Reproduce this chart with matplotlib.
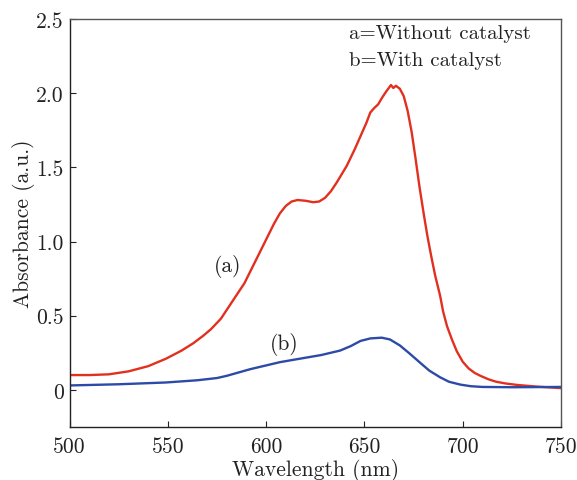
import matplotlib
matplotlib.use("Agg")
import matplotlib.pyplot as plt

plt.rcParams['font.family'] = 'serif'
plt.rcParams['font.serif'] = ['cmr10', 'DejaVu Serif']
plt.rcParams['mathtext.fontset'] = 'cm'
plt.rcParams['axes.unicode_minus'] = False

# Curve (a): without catalyst
wl_a = [500, 510, 520, 530, 540, 549, 557, 563, 568, 572, 577, 581, 585, 589, 592, 595, 598, 601,
        604, 607, 610, 613, 616, 620, 624, 627, 630, 633, 636, 641, 645, 648, 651, 653, 655, 657,
        659, 661, 663.5, 664.7, 666, 668, 670, 672, 674, 676, 678, 680, 682, 684, 686, 688.5, 690,
        692, 694.5, 697, 700, 703, 706, 709, 713, 717, 722, 728, 738, 750]
abs_a = [0.10, 0.10, 0.105, 0.125, 0.16, 0.21, 0.265, 0.315, 0.365, 0.41, 0.48, 0.56, 0.64, 0.72, 0.80,
         0.88, 0.96, 1.04, 1.12, 1.19, 1.24, 1.27, 1.28, 1.275, 1.265, 1.27, 1.295, 1.34, 1.40, 1.51,
         1.62, 1.71, 1.80, 1.87, 1.90, 1.925, 1.97, 2.01, 2.055, 2.035, 2.05, 2.03, 1.98, 1.88, 1.74,
         1.56, 1.37, 1.20, 1.04, 0.90, 0.77, 0.635, 0.53, 0.43, 0.34, 0.26, 0.19, 0.145, 0.115,
         0.095, 0.072, 0.055, 0.043, 0.033, 0.022, 0.012]

# Curve (b): with catalyst
wl_b = [500, 525, 549, 565, 575, 580, 584, 592, 600, 607, 617, 628, 637.6, 643, 648, 653, 658.8,
        663, 668, 673, 678, 683, 688.5, 693, 698.7, 704, 710, 725, 750]
abs_b = [0.03, 0.038, 0.05, 0.065, 0.08, 0.095, 0.11, 0.14, 0.165, 0.187, 0.21, 0.235, 0.265, 0.295,
         0.33, 0.347, 0.352, 0.34, 0.30, 0.245, 0.187, 0.13, 0.085, 0.055, 0.036, 0.025, 0.02,
         0.018, 0.02]

xticks = [500, 550, 600, 650, 700, 750]
yticks = [0, 0.5, 1.0, 1.5, 2.0, 2.5]
ytick_labels = ['0', '0.5', '1.0', '1.5', '2.0', '2.5']

red = '#E2301F'
blue = '#2C4AA6'
txt = '#222222'

fig = plt.figure(figsize=(5.77, 4.81), dpi=100)
ax = fig.add_axes([0.1205, 0.1102, 0.8518, 0.8482])

ax.plot(wl_a, abs_a, color=red, lw=1.7, solid_joinstyle='round', solid_capstyle='round')
ax.plot(wl_b, abs_b, color=blue, lw=1.7, solid_joinstyle='round', solid_capstyle='round')

ax.set_xlim(500, 750)
ax.set_ylim(-0.25, 2.5)
ax.set_xticks(xticks)
ax.set_xticklabels([str(t) for t in xticks])
ax.set_yticks(yticks)
ax.set_yticklabels(ytick_labels)

ax.tick_params(direction='in', length=4.5, width=0.8, labelsize=15.5, colors=txt,
               top=False, right=False)
ax.tick_params(axis='x', pad=7)
ax.tick_params(axis='y', pad=4)

for s in ['left', 'bottom']:
    ax.spines[s].set_color('#222222')
    ax.spines[s].set_linewidth(1.0)
for s in ['top', 'right']:
    ax.spines[s].set_color('#555555')
    ax.spines[s].set_linewidth(1.0)

ax.set_xlabel('Wavelength (nm)', fontsize=15.5, color=txt, labelpad=1)
ax.set_ylabel('Absorbance (a.u.)', fontsize=15.5, color=txt, labelpad=1)

ax.text(580.6, 0.84, '(a)', fontsize=15.5, color=txt, ha='center', va='center')
ax.text(609, 0.31, '(b)', fontsize=15.5, color=txt, ha='center', va='center')
ax.text(642, 2.405, 'a=Without catalyst', fontsize=15, color=txt, ha='left', va='center')
ax.text(642, 2.225, 'b=With catalyst', fontsize=15, color=txt, ha='left', va='center')

fig.savefig('out.png', dpi=100)
